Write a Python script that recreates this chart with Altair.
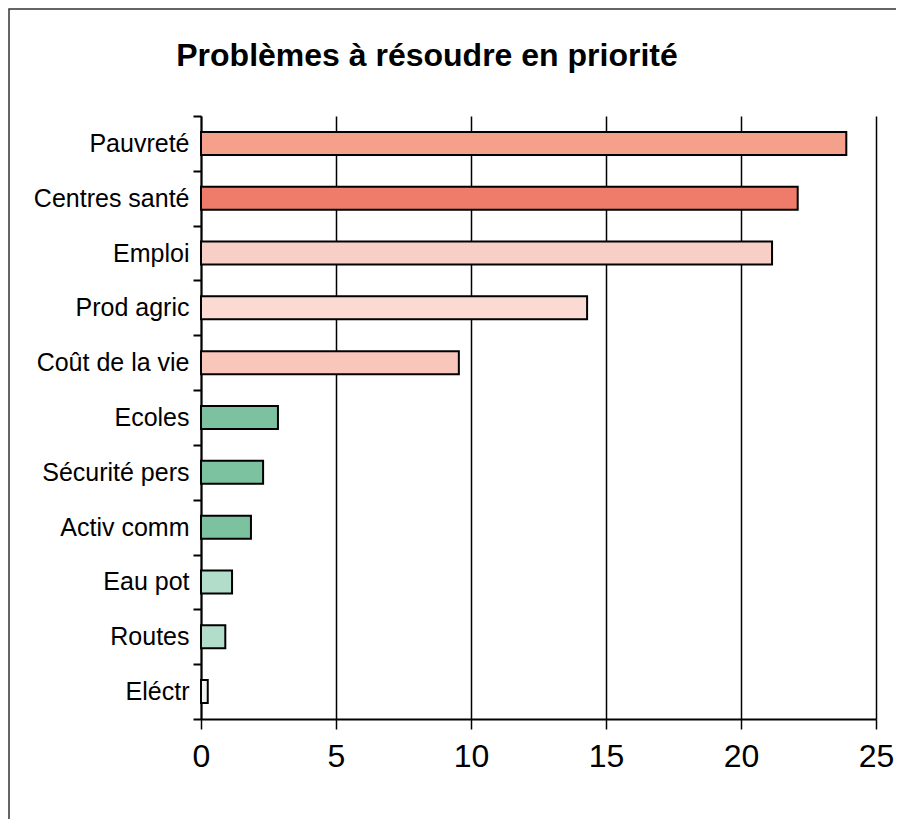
import altair as alt
import pandas as pd

categories = ["Pauvreté", "Centres santé", "Emploi", "Prod agric", "Coût de la vie",
              "Ecoles", "Sécurité pers", "Activ comm", "Eau pot", "Routes", "Eléctr"]
values = [23.9, 22.1, 21.15, 14.3, 9.55, 2.85, 2.3, 1.85, 1.15, 0.9, 0.25]
colors = ["#F5A08A", "#EF7C6A", "#F8CFC6", "#FBDAD3", "#F8C6BB",
          "#7CC2A0", "#7CC2A0", "#7CC2A0", "#B2DDCB", "#B2DDCB", "#EEF3F0"]
x_ticks = [0, 5, 10, 15, 20, 25]
title_text = "Problèmes à résoudre en priorité"

df = pd.DataFrame({"cat": categories, "val": values})

bars = alt.Chart(df).mark_bar(size=23, stroke="black", strokeWidth=2).encode(
    x=alt.X("val:Q",
            scale=alt.Scale(domain=[0, 25], nice=False, zero=True),
            axis=alt.Axis(values=x_ticks, title=None, grid=True, gridColor="black",
                          gridWidth=1.5, gridOpacity=1, domainColor="black", domainWidth=2,
                          tickColor="black", tickWidth=1.5, tickSize=10,
                          labelFont="Liberation Sans", labelFontSize=32, labelColor="black",
                          labelPadding=12, labelFlush=False, labelOverlap=False)),
    y=alt.Y("cat:N", sort=categories,
            scale=alt.Scale(paddingInner=0, paddingOuter=0),
            axis=alt.Axis(title=None, tickBand="extent", tickSize=8, tickColor="black",
                          tickWidth=2, domainColor="black", domainWidth=2,
                          labelFont="Liberation Sans", labelFontSize=25, labelColor="black",
                          labelPadding=4)),
    color=alt.Color("cat:N", scale=alt.Scale(domain=categories, range=colors), legend=None),
)

frame = alt.Chart(alt.Data(values=[{}])).mark_rect(
    fill="white", fillOpacity=0, stroke="#333333", strokeWidth=1.5
).encode(
    x=alt.value(-192), x2=alt.value(698), y=alt.value(-107), y2=alt.value(708)
)

title = alt.Chart(alt.Data(values=[{"t": title_text}])).mark_text(
    font="Liberation Sans", fontSize=32, fontWeight="bold", color="black",
    align="center", baseline="alphabetic"
).encode(
    text="t:N", x=alt.value(226), y=alt.value(-50)
)

chart = alt.layer(frame, title, bars).properties(
    width=675, height=603,
    padding={"left": 193, "top": 108, "right": 20, "bottom": 100},
    autosize=alt.AutoSizeParams(type="none"),
).configure_view(strokeWidth=0)

chart.save("out.html", embed_options={"renderer": "svg", "actions": False})
